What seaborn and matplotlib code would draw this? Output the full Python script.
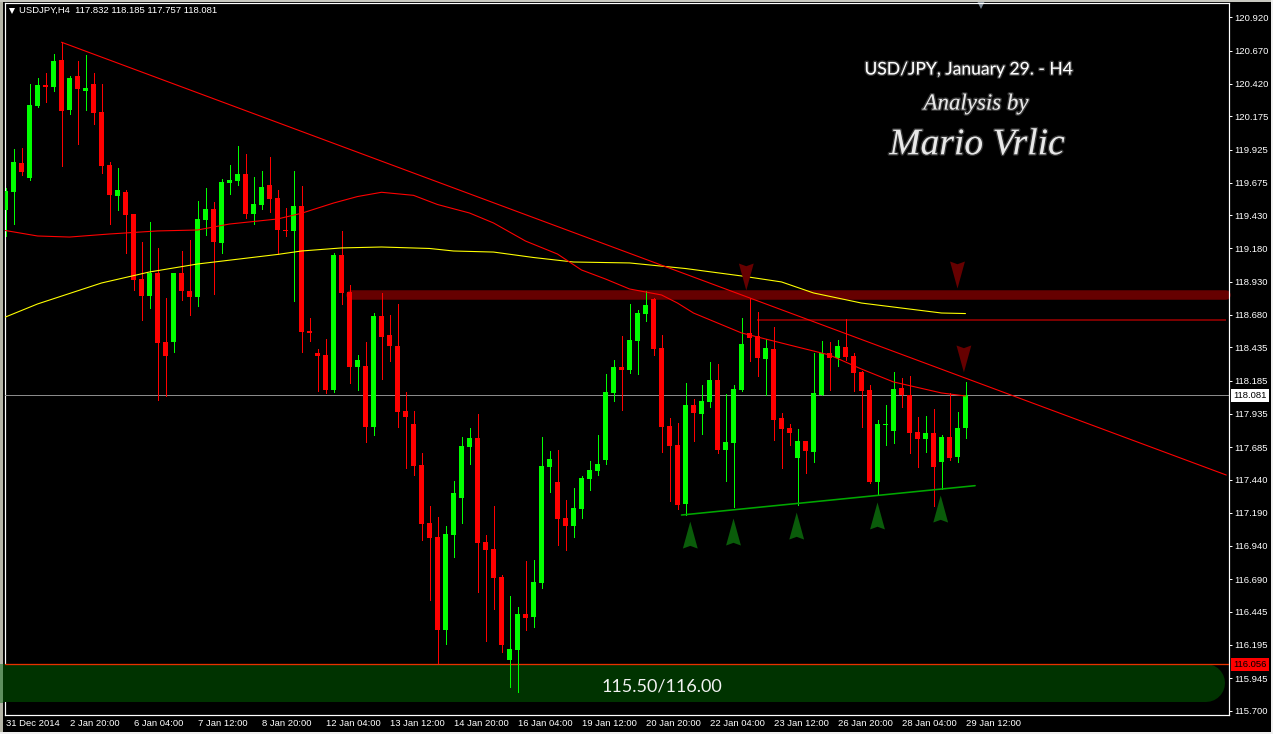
import matplotlib
matplotlib.use("Agg")
import matplotlib.pyplot as plt
import matplotlib.patheffects as pe
from matplotlib.path import Path
from matplotlib.patches import Rectangle
import numpy as np
import pandas as pd
import seaborn as sns

# H4 candles
opens = [
    119.477, 119.612, 119.831, 119.718, 120.260, 120.418, 120.403, 120.606, 120.230, 120.486,
    120.373, 120.425, 120.215, 119.816, 119.582, 119.612, 119.447, 118.957, 118.829, 119.002,
    118.483, 118.483, 119.002, 118.867, 118.822, 119.401, 119.484, 119.228, 119.680, 119.695,
    119.748, 119.447, 119.514, 119.665, 119.567, 119.326, 119.319, 119.507, 118.566, 118.400,
    118.385, 118.121, 119.138, 118.859, 118.295, 118.302, 117.843, 118.679, 118.536, 118.453,
    117.963, 117.865, 117.557, 117.120, 117.015, 116.314, 117.030, 117.308, 117.692, 117.760,
    116.977, 116.924, 116.713, 116.088, 116.164, 116.435, 116.412, 116.668, 117.542, 117.429,
    117.158, 117.097, 117.225, 117.451, 117.512, 117.594, 118.099, 118.295, 118.272, 118.490,
    118.693, 118.806, 118.437, 117.850, 117.707, 117.263, 118.008, 117.940, 118.031, 118.196,
    117.669, 117.722, 118.121, 118.550, 118.528, 118.355, 118.430, 117.910, 117.835, 117.609,
    117.737, 117.654, 118.083, 118.400, 118.362, 118.445, 118.377, 118.257, 118.121, 117.428,
    117.858, 117.812, 118.136, 118.083, 117.805, 117.752, 117.797, 117.579, 117.767, 117.617,
    117.832,
]
highs = [
    119.645, 119.936, 119.944, 120.425, 120.471, 120.508, 120.651, 120.742, 120.486, 120.599,
    120.644, 120.508, 120.425, 119.838, 119.793, 119.627, 119.447, 119.236, 119.386, 119.191,
    118.814, 119.002, 119.168, 119.251, 119.544, 119.642, 119.537, 119.710, 119.816, 119.959,
    119.898, 119.725, 119.770, 119.876, 119.627, 119.492, 119.770, 119.657, 118.663, 118.430,
    118.505, 119.153, 119.321, 118.910, 118.385, 118.483, 118.701, 118.852, 118.686, 118.769,
    118.106, 117.963, 117.647, 117.248, 117.165, 117.097, 117.436, 117.768, 117.835, 117.941,
    117.030, 117.248, 116.728, 116.570, 116.487, 116.834, 116.841, 117.768, 117.662, 117.670,
    117.293, 117.384, 117.474, 117.587, 117.783, 118.242, 118.347, 118.528, 118.769, 118.724,
    118.867, 118.811, 118.535, 117.910, 117.873, 118.174, 118.053, 118.159, 118.332, 118.317,
    118.091, 118.159, 118.663, 118.814, 118.708, 118.505, 118.595, 117.948, 117.865, 117.827,
    117.737, 118.400, 118.490, 118.483, 118.498, 118.656, 118.400, 118.264, 118.159, 117.895,
    118.008, 118.257, 118.211, 118.227, 117.918, 117.925, 117.978, 117.782, 118.099, 117.955,
    118.185,
]
lows = [
    119.281, 119.371, 119.740, 119.703, 120.250, 120.290, 120.373, 119.808, 120.200, 119.974,
    120.230, 120.124, 119.755, 119.371, 119.477, 119.153, 118.874, 118.648, 118.739, 118.046,
    118.076, 118.407, 118.799, 118.686, 118.754, 119.288, 118.844, 119.153, 119.597, 119.665,
    119.416, 119.371, 119.484, 119.462, 119.145, 119.281, 118.791, 118.407, 118.490, 118.114,
    118.099, 118.106, 118.769, 118.174, 118.121, 117.730, 117.783, 118.204, 118.340, 117.843,
    117.534, 117.481, 116.992, 116.540, 116.066, 116.209, 116.864, 117.120, 117.564, 116.600,
    116.231, 116.472, 116.149, 115.885, 115.847, 116.314, 116.337, 116.631, 117.353, 116.954,
    116.917, 117.015, 117.158, 117.368, 117.481, 117.564, 118.039, 117.971, 118.250, 118.242,
    118.641, 118.385, 117.654, 117.285, 117.225, 117.180, 117.737, 117.790, 117.993, 117.647,
    117.436, 117.240, 118.114, 118.339, 118.227, 118.083, 117.745, 117.534, 117.707, 117.255,
    117.496, 117.579, 118.083, 118.121, 118.302, 118.347, 118.114, 117.842, 117.421, 117.330,
    117.707, 117.722, 117.993, 117.647, 117.541, 117.654, 117.248, 117.376, 117.594, 117.579,
    117.757,
]
closes = [
    119.620, 119.838, 119.763, 120.267, 120.418, 120.403, 120.599, 120.222, 120.471, 120.388,
    120.395, 120.207, 119.808, 119.590, 119.627, 119.439, 118.950, 118.829, 119.002, 118.475,
    118.377, 119.002, 118.867, 118.822, 119.409, 119.484, 119.236, 119.688, 119.703, 119.748,
    119.447, 119.522, 119.650, 119.560, 119.326, 119.319, 119.507, 118.558, 118.551, 118.377,
    118.121, 119.138, 118.852, 118.295, 118.347, 117.843, 118.679, 118.521, 118.453, 117.956,
    117.918, 117.549, 117.112, 117.007, 116.314, 117.037, 117.346, 117.700, 117.760, 116.969,
    116.917, 116.706, 116.201, 116.171, 116.435, 116.405, 116.676, 117.549, 117.602, 117.150,
    117.097, 117.233, 117.459, 117.519, 117.564, 118.106, 118.295, 118.272, 118.498, 118.701,
    118.761, 118.430, 117.842, 117.699, 117.255, 118.008, 117.948, 118.038, 118.196, 117.669,
    117.730, 118.129, 118.467, 118.513, 118.362, 118.437, 117.895, 117.827, 117.797, 117.737,
    117.662, 118.099, 118.400, 118.362, 118.452, 118.370, 118.249, 118.114, 117.428, 117.865,
    117.865, 118.129, 118.083, 117.797, 117.752, 117.797, 117.541, 117.767, 117.609, 117.835,
    118.081,
]

# moving averages, sampled at the bars where they bend
slow_ma_bars = [0, 4, 12, 18, 24, 34, 37, 42, 47, 53, 56, 61, 66, 71, 78, 85, 92, 97, 101, 107, 113, 117, 120]
slow_ma = [118.671, 118.769, 118.927, 119.010, 119.070, 119.142, 119.168, 119.191, 119.198, 119.187, 119.168,
           119.160, 119.119, 119.085, 119.078, 119.036, 118.980, 118.935, 118.852, 118.776, 118.731, 118.701, 118.697]
fast_ma_bars = [0, 4, 8, 13, 19, 24, 28, 34, 37, 41, 44, 47, 51, 54, 58, 61, 65, 69, 72, 75, 78, 82, 84, 86,
                92, 98, 103, 107, 111, 117, 120]
fast_ma = [119.322, 119.281, 119.273, 119.296, 119.319, 119.326, 119.371, 119.409, 119.452, 119.529, 119.578,
           119.610, 119.587, 119.518, 119.454, 119.379, 119.243, 119.145, 119.025, 118.957, 118.882, 118.837,
           118.776, 118.701, 118.551, 118.460, 118.385, 118.279, 118.182, 118.099, 118.076]

# drawn objects
trend_bars = [7, 152.6]
trend_prices = [120.740, 117.481]
support_bars = [84.5, 121.2]
support_prices = [117.180, 117.401]
resistance_bars = [43.2, 152.6]
resistance_price = 118.833
thin_bars = [93.9, 152.6]
thin_price = 118.645
zone_bars = [-4, 150.1]
zone_price = 115.915
down_bars = [92.6, 119.0, 119.8]
down_prices = [118.972, 118.987, 118.355]
up_bars = [85.6, 91.0, 98.9, 109.0, 116.9]
up_prices = [117.029, 117.052, 117.097, 117.173, 117.225]

last_price = 118.081
zone_top = 116.056

price_ticks = [120.920, 120.670, 120.420, 120.175, 119.925, 119.675, 119.430, 119.180, 118.930, 118.680, 118.435,
               118.185, 117.935, 117.685, 117.440, 117.190, 116.940, 116.690, 116.445, 116.195, 115.945, 115.700]
date_ticks = np.arange(0, 121, 8)
date_labels = ['31 Dec 2014', '2 Jan 20:00', '6 Jan 04:00', '7 Jan 12:00', '8 Jan 20:00', '12 Jan 04:00',
               '13 Jan 12:00', '14 Jan 20:00', '16 Jan 04:00', '19 Jan 12:00', '20 Jan 20:00', '22 Jan 04:00',
               '23 Jan 12:00', '26 Jan 20:00', '28 Jan 04:00', '29 Jan 12:00']

W, H = 1273, 734
PX = 72 / 100  # one pixel in points at dpi 100
UI_FONT = 'Liberation Sans'
UI_SIZE = 6.8

sns.set_theme(style="dark", rc={'axes.facecolor': 'black', 'figure.facecolor': 'black',
                                'axes.edgecolor': 'white', 'text.color': 'white',
                                'xtick.color': 'white', 'ytick.color': 'white'})

df = pd.DataFrame({'bar': np.arange(len(opens)), 'open': opens, 'high': highs, 'low': lows, 'close': closes})
df['colour'] = np.where(df['close'] >= df['open'], '#00FF00', '#FF0000')

fig = plt.figure(figsize=(W / 100, H / 100), dpi=100)
ax = fig.add_axes([4.5 / W, (H - 714.5) / H, 1224 / W, 712 / H])
ax.set_xlim(-0.125, 152.875)
ax.set_ylim(115.678, 121.039)


def flat_line(bars, price, colour, px, cap='butt', zorder=1, clip=True):
    sns.lineplot(x=bars, y=[price, price], color=colour, linewidth=px * PX, ax=ax, legend=False,
                 estimator=None, sort=False, solid_capstyle=cap, zorder=zorder, clip_on=clip)


# zones and levels go behind the candles
flat_line(zone_bars, zone_price, '#003300', 38, cap='round', zorder=2.6, clip=False)
flat_line(resistance_bars, resistance_price, '#660000', 9.5, cap='round', clip=False)
flat_line(thin_bars, thin_price, '#7A0000', 2)
ax.axhline(last_price, color='#8A8A8A', lw=PX, zorder=2.7)
ax.axhline(zone_top, color='#E63200', lw=1.3 * PX, zorder=2.7)

ax.vlines(df['bar'], df['low'], df['high'], colors=df['colour'], lw=PX, antialiased=False, zorder=3)
ax.bar(df['bar'], df['close'] - df['open'], bottom=df['open'], width=0.625, color=df['colour'],
       linewidth=0, antialiased=False, zorder=4)

sns.lineplot(x=slow_ma_bars, y=slow_ma, color='#FFFF00', linewidth=PX * 1.1, ax=ax, legend=False,
             estimator=None, sort=False, zorder=5)
sns.lineplot(x=fast_ma_bars, y=fast_ma, color='#FF0000', linewidth=PX * 1.1, ax=ax, legend=False,
             estimator=None, sort=False, zorder=5)
sns.lineplot(x=trend_bars, y=trend_prices, color='#FF0000', linewidth=PX * 1.1, ax=ax, legend=False,
             estimator=None, sort=False, zorder=5)
sns.lineplot(x=support_bars, y=support_prices, color='#00A800', linewidth=PX * 1.6, ax=ax, legend=False,
             estimator=None, sort=False, zorder=5)

# notched arrows
arrow_up = Path([(0, 1), (0.55, -1), (0, -0.8), (-0.55, -1), (0, 1)], closed=True)
arrow_down = Path([(0, -1), (0.55, 1), (0, 0.8), (-0.55, 1), (0, -1)], closed=True)
arrow_size = (27 * PX) ** 2
sns.scatterplot(x=down_bars, y=down_prices, marker=arrow_down, s=arrow_size, color='#660000', edgecolor='none',
                ax=ax, legend=False, zorder=6)
sns.scatterplot(x=up_bars, y=up_prices, marker=arrow_up, s=arrow_size, color='#0A5C0A', edgecolor='none',
                ax=ax, legend=False, zorder=6)

ax.grid(False)
for side in ax.spines:
    ax.spines[side].set_linewidth(PX * 1.2)
    ax.spines[side].set_color('white')
ax.yaxis.tick_right()
ax.set_yticks(np.array(price_ticks) + 0.007, labels=['%.3f' % p for p in price_ticks])
ax.set_xticks(date_ticks, labels=date_labels)
ax.tick_params(axis='y', length=3 * PX, width=PX, pad=3 * PX, labelsize=UI_SIZE, labelcolor='white')
ax.tick_params(axis='x', length=3 * PX, width=PX, pad=2 * PX, labelsize=UI_SIZE, labelcolor='white')
for label in ax.get_xticklabels() + ax.get_yticklabels():
    label.set_fontfamily(UI_FONT)
for label in ax.get_xticklabels():
    label.set_horizontalalignment('left')

# price tags on the scale
for price, face in [(last_price, 'white'), (zone_top, '#FF0000')]:
    ax.annotate('%.3f' % price, xy=(1, price), xycoords=ax.get_yaxis_transform(), xytext=(5, 0),
                textcoords='offset pixels', color='black', fontsize=UI_SIZE, family=UI_FONT,
                ha='left', va='center', annotation_clip=False, zorder=8,
                bbox=dict(boxstyle='square,pad=0.22', fc=face, ec='none'))

# header of the terminal window
ax.text(19 / W, (H - 10) / H, 'USDJPY,H4  117.832 118.185 117.757 118.081', transform=fig.transFigure,
        color='white', fontsize=UI_SIZE, family=UI_FONT, va='center', ha='left')
ax.plot([11.5 / W], [(H - 10.5) / H], marker='v', ms=6 * PX, color='white', mew=0, transform=fig.transFigure, clip_on=False)
ax.plot([981 / W], [(H - 4.5) / H], marker='v', ms=8 * PX, color='#7C8894', mew=0, transform=fig.transFigure, clip_on=False)

# titles, the original signature is a script face
glow = [pe.withStroke(linewidth=2, foreground='#777777', alpha=0.45)]
ax.text(969 / W, (H - 69.5) / H, 'USD/JPY, January 29. - H4', transform=fig.transFigure, color='white',
        fontsize=12.6, family='Lato', ha='center', va='center', path_effects=glow)
ax.text(976 / W, (H - 104) / H, 'Analysis by', transform=fig.transFigure, color='#E8E8E8', fontsize=16.5,
        family='Liberation Serif', style='italic', ha='center', va='center', path_effects=glow)
ax.text(977 / W, (H - 145) / H, 'Mario Vrlic', transform=fig.transFigure, color='#E8E8E8', fontsize=27,
        family='Liberation Serif', style='italic', ha='center', va='center', path_effects=glow)
ax.text(662 / W, (H - 687) / H, '115.50/116.00', transform=fig.transFigure, color='#F2F2F2', fontsize=13,
        family='Lato', ha='center', va='center', zorder=7)

# window chrome around the chart
chrome = [(0, 0, 3, H, '#B4B4A6'), (0, 664, 3, 39, '#5E8F5E'), (0, 0, W, 1.5, '#C8C8C0'),
          (0, 731.5, W, 2.5, '#F0F0F0'), (1270.5, 0, 2.5, H, '#F0F0F0')]
for x0, y0, w, h, col in chrome:
    fig.add_artist(Rectangle((x0 / W, (H - y0 - h) / H), w / W, h / H, transform=fig.transFigure,
                             fc=col, ec='none'))

fig.savefig('out.png', dpi=100, facecolor='black')
